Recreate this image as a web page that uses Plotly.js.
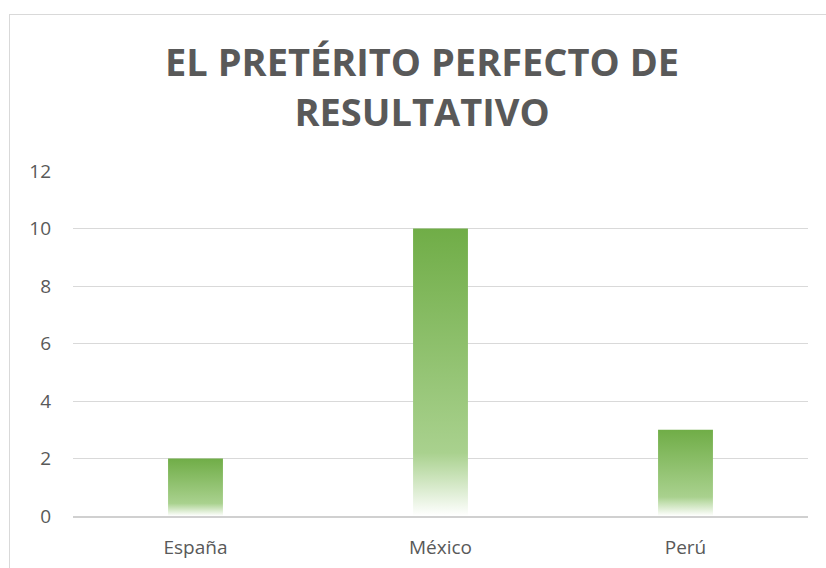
<!DOCTYPE html>
<html><head><meta charset="utf-8">
<script src="https://cdn.plot.ly/plotly-3.0.1.min.js"></script>
<style>
html,body{margin:0;padding:0;background:#fff;overflow:hidden;}
#wrap{position:relative;width:826px;height:568px;}
#chart{position:absolute;left:0;top:0;width:826px;height:568px;}
#border{position:absolute;left:9px;top:14px;width:900px;height:700px;border:1px solid #d9d9d9;pointer-events:none;box-sizing:border-box;}
</style>
</head><body>
<div id="wrap"><div id="chart"></div><div id="border"></div></div>
<script>
const categories = ["España", "México", "Perú"];
const values = [2, 10, 3];
const yTicks = [0, 2, 4, 6, 8, 10, 12];
const titleText = "EL PRETÉRITO PERFECTO DE<br>RESULTATIVO";

const font = "Open Sans, Noto Sans, sans-serif";
const data = [{
  type: "bar",
  x: categories,
  y: values,
  marker: {color: "#70AD47", line: {width: 0}},
  width: 0.224,
  hoverinfo: "skip"
}];
const layout = {
  width: 826, height: 568,
  margin: {l: 73, r: 18, t: 171, b: 52},
  paper_bgcolor: "rgba(0,0,0,0)",
  plot_bgcolor: "rgba(0,0,0,0)",
  showlegend: false,
  title: {
    text: titleText,
    font: {family: font, size: 38, color: "#595959", weight: 700},
    x: 0.511, xanchor: "center",
    yref: "container", y: 0.866, yanchor: "top"
  },
  xaxis: {
    type: "category",
    tickfont: {family: font, size: 19, color: "#595959"},
    showgrid: false, zeroline: false,
    showline: true, linecolor: "#d0d0d0", linewidth: 1.5,
    ticks: "", ticklabelstandoff: 14
  },
  yaxis: {
    range: [0, 12],
    tickvals: yTicks,
    ticktext: yTicks.map(String),
    tickfont: {family: font, size: 19, color: "#595959"},
    showgrid: true, gridcolor: "#d9d9d9", gridwidth: 1,
    zeroline: false, showline: false,
    ticks: "", ticklabelstandoff: 21
  }
};
Plotly.newPlot("chart", data, layout, {staticPlot: true, displayModeBar: false}).then(function(gd){
  const svg = gd.querySelector("svg.main-svg");
  const ns = "http://www.w3.org/2000/svg";
  let defs = svg.querySelector("defs");
  if (!defs) { defs = document.createElementNS(ns, "defs"); svg.insertBefore(defs, svg.firstChild); }
  const lg = document.createElementNS(ns, "linearGradient");
  lg.setAttribute("id", "barGrad");
  lg.setAttribute("x1", "0"); lg.setAttribute("y1", "0");
  lg.setAttribute("x2", "0"); lg.setAttribute("y2", "1");
  [["0", "#70AD47"], ["0.78", "#A9D18E"], ["1", "#FFFFFF"]].forEach(function(s){
    const st = document.createElementNS(ns, "stop");
    st.setAttribute("offset", s[0]);
    st.setAttribute("stop-color", s[1]);
    lg.appendChild(st);
  });
  defs.appendChild(lg);
  gd.querySelectorAll(".barlayer .point path").forEach(function(p){
    p.style.fill = "url(#barGrad)";
  });
});
</script>
</body></html>
